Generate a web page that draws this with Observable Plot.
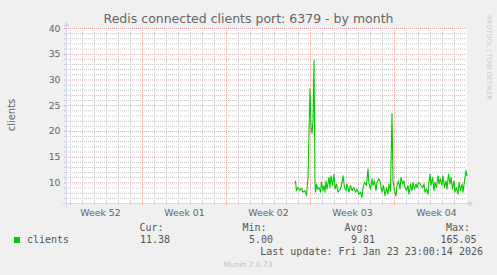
<!DOCTYPE html>
<html><head><meta charset="utf-8">
<script src="https://cdn.jsdelivr.net/npm/d3@7"></script>
<script src="https://cdn.jsdelivr.net/npm/@observablehq/plot@0.6"></script>
<style>
html,body{margin:0;padding:0;background:#F0F0F0;}
#chart{width:497px;height:275px;overflow:hidden;background:#F0F0F0;}
</style></head><body>
<div id="chart"></div>
<script>
// ---- data ----
const titleText = "Redis connected clients port: 6379 - by month";
const yLabel = "clients";
const weekStarts = ["2025-12-22","2025-12-29","2026-01-05","2026-01-12","2026-01-19"];
const weekLabels = ["Week 52","Week 01","Week 02","Week 03","Week 04"];
const yTicks = [10,15,20,25,30,35,40];
const xStart = "2025-12-22T16:00:00Z";
const xEnd = "2026-01-25T00:00:00Z";
const yMin = 6, yMax = 40;
const seriesAnchor = "2026-01-12T00:00:00Z";
// hours relative to seriesAnchor
const hours = [-30,-28,-25,-21,-18,-15,-11,-8,-5,-1,1,3,5,7,9,10,12,14,17,20,22,25,27,29,31,33,37,39,41,44,47,49,52,55,57,60,63,65,68,71,73,77,80,83,87,90,93,97,100,103,105,108,112,115,117,120,123,125,128,131,133,137,139,143,146,149,152,155,157,160,163,165,168,171,173,176,179,181,184,187,189,192,195,197,200,203,205,208,211,213,216,219,221,224,227,229,232,235,237,239,241,244,247,249,252,255,257,260,263,265,268,271,273,276,279,281,284,287,289,292,295,297,300,303,305,308,311,313];
const clients = [10.3,8.5,9.1,8.6,9.0,8.2,8.5,7.5,11.1,28.3,21,19.6,22,33.8,10,8.2,9.8,8.8,9.1,8.2,10.1,8.5,9.5,8.2,10.4,8.8,11.1,9.1,11.4,9.5,11.7,8.8,9.8,8.2,8.5,8.8,10.1,11.4,9.1,8.5,9.8,8.2,9.5,8.5,9.1,8.2,8.8,7.8,8.2,7.2,9.1,10.1,9.5,12.7,9.8,8.8,10.8,9.5,10.4,8.5,10.1,10.8,10.4,8.2,9.5,7.5,9.1,7.8,9.8,8.5,23.5,10.4,8.5,7.5,9.5,10.4,8.8,11.1,9.8,10.4,9.1,8.5,9.5,7.8,9.8,8.5,10.1,8.8,9.8,9.1,10.1,9.8,9.5,9.1,9.8,8.2,8.8,7.8,10.1,11.7,9.5,11.1,8.5,10.1,9.1,11.4,9.8,10.8,9.5,11.4,9.1,10.4,8.8,11.7,9.8,11.1,8.8,10.4,8.2,9.1,7.8,10.1,8.5,9.8,8.2,10.4,12.4,11.4];
const legendHeads = ["Cur:","Min:","Avg:","Max:"];
const legendValues = ["11.38","5.00","9.81","165.05"];
const lastUpdate = "Last update: Fri Jan 23 23:00:14 2026";
const footer = "Munin 2.0.73";
const sideText = "RRDTOOL / TOBI OETIKER";

// ---- derived ----
const t0 = Date.parse(seriesAnchor);
const data = hours.map((h, i) => ({date: new Date(t0 + h * 3600e3), value: clients[i]}));
const xDomain = [new Date(xStart), new Date(xEnd)];
const labelDates = weekStarts.map(s => new Date(Date.parse(s + "T00:00:00Z") + 3.5 * 864e5));
const labelMap = new Map(labelDates.map((d, i) => [+d, weekLabels[i]]));
const mondays = d3.utcMonday.range(xDomain[0], xDomain[1]);
const mondaySet = new Set(mondays.map(d => +d));
const minorDays = d3.utcDay.range(xDomain[0], xDomain[1]).filter(d => !mondaySet.has(+d));
const minorY = d3.range(yMin + 1, yMax).filter(v => v % 5 !== 0);

const GRID = "#c6c6c6", MGRID = "#eda3a3", AXIS = "#CFD6F8", FONT = "#666666";

const chart = Plot.plot({
  width: 497, height: 275,
  marginLeft: 66, marginRight: 31, marginTop: 28, marginBottom: 72,
  style: {background: "transparent", fontFamily: "DejaVu Sans", fontSize: "9.33px", color: FONT, overflow: "visible"},
  x: {type: "utc", domain: xDomain},
  y: {domain: [yMin, yMax]},
  marks: [
    Plot.frame({fill: "white", stroke: "none"}),
    Plot.ruleY(minorY, {stroke: GRID, strokeDasharray: "1,1"}),
    Plot.ruleX(minorDays, {stroke: GRID, strokeDasharray: "1,1"}),
    Plot.ruleY(yTicks, {stroke: MGRID, strokeDasharray: "1,1"}),
    Plot.ruleX(mondays, {stroke: MGRID, strokeDasharray: "1,1"}),
    Plot.axisX(minorDays, {tickSize: 2, fill: "none", stroke: GRID, label: null}),
    Plot.axisX(mondays, {tickSize: 2, fill: "none", stroke: MGRID, label: null}),
    Plot.axisY(minorY, {tickSize: 2, fill: "none", stroke: GRID, label: null}),
    Plot.axisY(yTicks, {tickSize: 2, fill: "none", stroke: MGRID, label: null}),
    Plot.line(data, {x: "date", y: "value", stroke: "#00CC00", strokeWidth: 1.1}),
    Plot.axisY(yTicks, {tickSize: 0, tickPadding: 6, fill: FONT, label: null, fontSize: 9.33}),
    Plot.axisX(labelDates, {tickSize: 0, tickPadding: 6, fill: FONT, label: null, fontSize: 9.33,
      tickFormat: d => labelMap.get(+d)})
  ]
});
document.getElementById("chart").appendChild(chart);

// axes lines, arrows and texts
const svg = d3.select(chart);
const sx = chart.scale("x"), sy = chart.scale("y");
const X0 = Math.round(sx.apply(xDomain[0])) + 0.5, X1 = Math.round(sx.apply(xDomain[1])) + 0.5;
const Y0 = Math.round(sy.apply(yMin)) + 0.5, Y1 = Math.round(sy.apply(yMax)) + 0.5;
const g = svg.append("g").attr("text-anchor", "start");
g.append("line").attr("x1", X0 - 4).attr("x2", X1 + 4).attr("y1", Y0).attr("y2", Y0).attr("stroke", AXIS);
g.append("line").attr("x1", X0).attr("x2", X0).attr("y1", Y0 + 4).attr("y2", Y1 - 4).attr("stroke", AXIS);
g.append("path").attr("d", `M${X1 + 2},${Y0 - 3}L${X1 + 2},${Y0 + 3}L${X1 + 7},${Y0}Z`).attr("fill", AXIS);
g.append("path").attr("d", `M${X0 - 3},${Y1 - 2}L${X0 + 3},${Y1 - 2}L${X0},${Y1 - 7}Z`).attr("fill", AXIS);

const W = 497;
g.append("text").attr("x", W / 2).attr("y", 23).attr("text-anchor", "middle")
  .attr("font-family", "DejaVu Sans").attr("font-size", 12.5).attr("fill", FONT).text(titleText);
g.append("text").attr("transform", "translate(15,115) rotate(-90)").attr("text-anchor", "middle")
  .attr("font-family", "DejaVu Sans").attr("font-size", 10).attr("fill", FONT).text(yLabel);
g.append("text").attr("transform", "translate(487,15) rotate(90)").attr("text-anchor", "start")
  .attr("font-family", "DejaVu Sans").attr("font-size", 6.6).attr("fill", "#c8c8c8").text(sideText);

const mono = sel => sel.attr("font-family", "DejaVu Sans Mono").attr("font-size", 10).attr("fill", "#555");
g.append("rect").attr("x", 14).attr("y", 237).attr("width", 6).attr("height", 6).attr("fill", "#00CC00");
mono(g.append("text").attr("x", 27).attr("y", 243).attr("text-anchor", "start").text(yLabel));
const headEnds = [163.5, 266.5, 368.5, 470];
legendHeads.forEach((h, i) => {
  mono(g.append("text").attr("x", headEnds[i]).attr("y", 231).attr("text-anchor", "end").text(h));
  mono(g.append("text").attr("x", headEnds[i] + 6.5).attr("y", 243).attr("text-anchor", "end").text(legendValues[i]));
});
mono(g.append("text").attr("x", 483).attr("y", 255).attr("text-anchor", "end").text(lastUpdate));
g.append("text").attr("x", 248).attr("y", 267).attr("text-anchor", "middle")
  .attr("font-family", "DejaVu Sans").attr("font-size", 7.5).attr("fill", "#c0c0c0").text(footer);
</script>
</body></html>
